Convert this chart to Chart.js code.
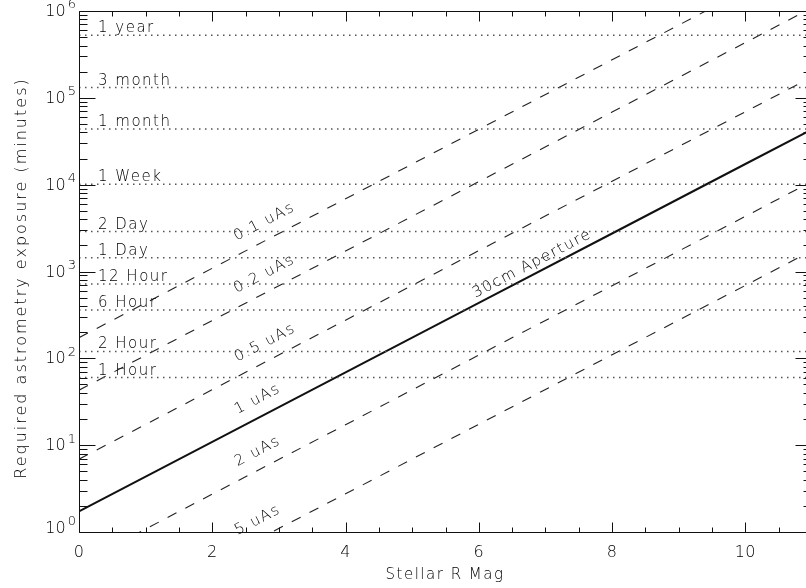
<!DOCTYPE html>
<html>
<head>
<meta charset="utf-8">
<script src="https://cdn.jsdelivr.net/npm/chart.js@4.4.1/dist/chart.umd.min.js"></script>
<style>
  html, body { margin: 0; padding: 0; background: #fff; }
  #wrap { width: 806px; height: 588px; overflow: hidden; }
  #inner { width: 812px; height: 588px; position: relative; }
</style>
</head>
<body>
<div id="wrap"><div id="inner"><canvas id="chart"></canvas></div></div>
<script>
// stellar R magnitude sample points
const MAGS = [0, 2, 4, 6, 8, 10, 11];

// required exposure (minutes) for each astrometric precision
const UAS_01 = [173, 1090, 6880, 43400, 274000, 1730000, 4340000];
const UAS_02 = [43, 273, 1720, 10850, 68500, 432000, 1090000];
const UAS_05 = [6.9, 43.6, 275, 1740, 10950, 69100, 174000];
const UAS_1 = [1.73, 10.9, 68.8, 434, 2740, 17300, 43400];
const UAS_2 = [0.43, 2.73, 17.2, 109, 685, 4320, 10900];
const UAS_5 = [0.069, 0.44, 2.75, 17.4, 110, 691, 1740];

// reference durations in minutes
const PERIOD_LABELS = ["1 year", "3 month", "1 month", "1 Week", "2 Day", "1 Day", "12 Hour", "6 Hour", "2 Hour", "1 Hour"];
const PERIOD_MINUTES = [525600, 131400, 43800, 10080, 2880, 1440, 720, 360, 120, 60];

const X_TICKS = [0, 2, 4, 6, 8, 10];
const Y_TICKS = [1, 10, 100, 1000, 10000, 100000, 1000000];
const Y_EXPONENTS = ["0", "1", "2", "3", "4", "5", "6"];

const X_MIN = 0;
const X_MAX = 11;
const INK = "#111";
const FONT = '"DejaVu Sans", sans-serif';

function series(values) {
  return MAGS.map((m, i) => ({ x: m, y: values[i] }));
}

function setText(ctx, size, spacing) {
  ctx.font = `200 ${size}px ${FONT}`;
  ctx.letterSpacing = spacing;
  ctx.fillStyle = "#000";
}

const datasets = [];

PERIOD_MINUTES.forEach((v, i) => {
  datasets.push({
    data: [{ x: X_MIN, y: v }, { x: X_MAX, y: v }],
    borderColor: "#555",
    borderWidth: 1.5,
    borderDash: [1.5, 4.5],
    periodText: PERIOD_LABELS[i],
  });
});

const curves = [
  { values: UAS_01, text: "0.1 uAs", at: 2.9, gap: 17 },
  { values: UAS_02, text: "0.2 uAs", at: 2.9, gap: 17 },
  { values: UAS_05, text: "0.5 uAs", at: 2.91, gap: 17 },
  { values: UAS_2, text: "2 uAs", at: 2.8, gap: 17 },
  { values: UAS_5, text: "5 uAs", at: 2.8, gap: 17 },
];

curves.forEach((c) => {
  datasets.push({
    data: series(c.values),
    borderColor: "#222",
    borderWidth: 1.1,
    borderDash: [10, 10],
    curveText: c.text,
    curveAt: c.at,
    curveGap: c.gap,
  });
});

// the 1 uAs curve is the 30cm aperture reference, drawn solid
datasets.push({
  data: series(UAS_1),
  borderColor: "#111",
  borderWidth: 2,
  curveText: "1 uAs",
  curveAt: 2.8,
  curveGap: 17,
  extraText: "30cm Aperture",
  extraAt: 6.87,
  extraGap: 10,
});

function pointOnLine(chart, index, mag) {
  const pts = chart.getDatasetMeta(index).data;
  const px = chart.scales.x.getPixelForValue(mag);
  for (let j = 0; j < pts.length - 1; j++) {
    const p0 = pts[j];
    const p1 = pts[j + 1];
    if (px >= p0.x && px <= p1.x) {
      const t = (px - p0.x) / (p1.x - p0.x);
      return {
        x: px,
        y: p0.y + t * (p1.y - p0.y),
        angle: Math.atan2(p1.y - p0.y, p1.x - p0.x),
      };
    }
  }
  return null;
}

function drawAlong(ctx, pos, text, gap) {
  if (!pos) return;
  ctx.save();
  ctx.translate(pos.x, pos.y);
  ctx.rotate(pos.angle);
  ctx.textAlign = "center";
  ctx.textBaseline = "middle";
  ctx.fillText(text, 0, -gap);
  ctx.restore();
}

const lineLabels = {
  id: "lineLabels",
  afterDatasetsDraw(chart) {
    const { ctx, scales } = chart;
    ctx.save();
    setText(ctx, 15, "1.5px");
    chart.data.datasets.forEach((ds, i) => {
      if (ds.periodText) {
        const py = scales.y.getPixelForValue(ds.data[0].y);
        ctx.textAlign = "left";
        ctx.textBaseline = "alphabetic";
        ctx.fillText(ds.periodText, scales.x.getPixelForValue(X_MIN) + 19, py - 3);
      }
      if (ds.curveText) {
        drawAlong(ctx, pointOnLine(chart, i, ds.curveAt), ds.curveText, ds.curveGap);
      }
      if (ds.extraText) {
        drawAlong(ctx, pointOnLine(chart, i, ds.extraAt), ds.extraText, ds.extraGap);
      }
    });
    ctx.restore();
  },
};

const idlAxes = {
  id: "idlAxes",
  afterDraw(chart) {
    const { ctx, chartArea: a, scales: { x, y } } = chart;
    const left = Math.round(a.left) + 0.5;
    const right = Math.round(a.right) - 0.5;
    const top = Math.round(a.top) + 0.5;
    const bottom = Math.round(a.bottom) + 0.5;

    ctx.save();
    ctx.strokeStyle = INK;
    ctx.lineWidth = 1;
    ctx.beginPath();
    ctx.rect(left, top, right - left, bottom - top);

    // x ticks on bottom and top, pointing inward
    for (let v = X_MIN; v <= X_MAX + 1e-9; v += 0.5) {
      const px = Math.round(x.getPixelForValue(v)) + 0.5;
      const len = v % 2 === 0 ? 10 : 5;
      ctx.moveTo(px, bottom);
      ctx.lineTo(px, bottom - len);
      ctx.moveTo(px, top);
      ctx.lineTo(px, top + len);
    }

    // y ticks on left and right, decades plus 2..9
    for (let d = 0; d < Y_TICKS.length; d++) {
      for (let k = 1; k <= 9; k++) {
        const v = Y_TICKS[d] * k;
        if (v > Y_TICKS[Y_TICKS.length - 1]) break;
        const py = Math.round(y.getPixelForValue(v)) + 0.5;
        const len = k === 1 ? 16 : 8;
        ctx.moveTo(left, py);
        ctx.lineTo(left + len, py);
        ctx.moveTo(right, py);
        ctx.lineTo(right - len, py);
      }
    }
    ctx.stroke();

    // tick labels
    setText(ctx, 16, "0.5px");
    ctx.textAlign = "center";
    ctx.textBaseline = "middle";
    X_TICKS.forEach((v) => {
      ctx.fillText(String(v), x.getPixelForValue(v), 553);
    });

    Y_TICKS.forEach((v, i) => {
      // bottom label sits a little higher so it clears the x labels
      const py = y.getPixelForValue(v) - (i === 0 ? 4 : 0);
      const expRight = a.left - 3;
      setText(ctx, 13, "0px");
      ctx.textAlign = "right";
      ctx.textBaseline = "middle";
      ctx.fillText(Y_EXPONENTS[i], expRight, py - 6);
      const w = ctx.measureText(Y_EXPONENTS[i]).width;
      setText(ctx, 16, "0px");
      ctx.fillText("10", expRight - w - 2, py + 1);
    });

    // axis titles
    setText(ctx, 15, "1.5px");
    ctx.textAlign = "center";
    ctx.textBaseline = "middle";
    ctx.fillText("Stellar R Mag", 445, 575);

    setText(ctx, 16, "2px");
    ctx.translate(22, 278);
    ctx.rotate(-Math.PI / 2);
    ctx.fillText("Required astrometry exposure (minutes)", 0, 0);
    ctx.restore();
  },
};

new Chart(document.getElementById("chart").getContext("2d"), {
  type: "line",
  data: { datasets },
  options: {
    responsive: true,
    maintainAspectRatio: false,
    animation: false,
    layout: { padding: { top: 11, right: 0, left: 0, bottom: 0 } },
    elements: {
      point: { radius: 0, hoverRadius: 0 },
      line: { tension: 0, borderCapStyle: "butt" },
    },
    plugins: {
      legend: { display: false },
      tooltip: { enabled: false },
    },
    events: [],
    scales: {
      x: {
        type: "linear",
        min: X_MIN,
        max: X_MAX,
        grid: { display: false, drawTicks: false },
        border: { display: false },
        ticks: { display: false },
        afterFit: (scale) => { scale.height = 56; },
      },
      y: {
        type: "logarithmic",
        min: 1,
        max: 1000000,
        grid: { display: false, drawTicks: false },
        border: { display: false },
        ticks: { display: false },
        afterFit: (scale) => { scale.width = 79; },
      },
    },
  },
  plugins: [lineLabels, idlAxes],
});
</script>
</body>
</html>
